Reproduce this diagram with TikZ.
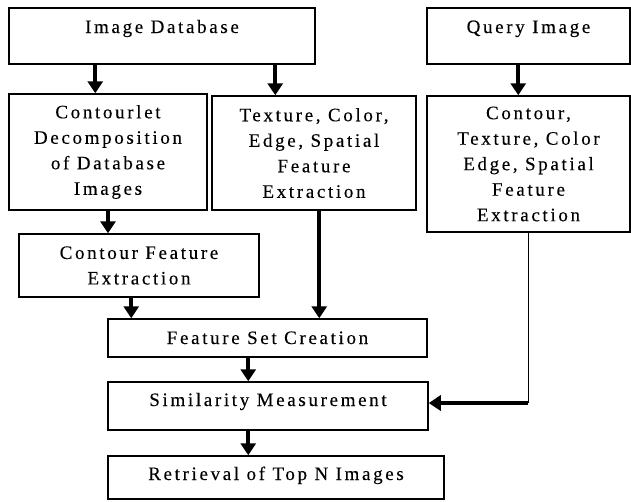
\documentclass[tikz,border=0pt]{standalone}
\usepackage{fontspec}
\setmainfont{Liberation Serif}[LetterSpace=14, FakeBold=0.2]
\usetikzlibrary{arrows.meta}
\begin{document}
\begin{tikzpicture}[x=1pt,y=-1pt,
  box/.style={draw=black, line width=1.5pt, rectangle, inner xsep=2pt, inner ysep=0pt,
    align=center, font=\fontsize{19}{25.5}\selectfont},
  oneline/.style 2 args={text height=#1pt, text depth=#2pt},
  arr/.style={line width=4pt, -{Triangle[width=15pt,length=12pt]}},
  thin/.style={line width=1.4pt}]
\useasboundingbox (0,0) rectangle (631,501);

% boxes
\node[box, minimum width=306pt, minimum height=56pt, oneline={25}{31}] (db) at (162,36) {Image Database};
\node[box, minimum width=203pt, minimum height=56pt, oneline={25}{31}] (qi) at (528.5,36) {Query Image};
\node[box, minimum width=198pt, minimum height=116pt] (ctl) at (108,152)
  {Contourlet\\Decomposition\\of Database\\Images};
\node[box, minimum width=204pt, minimum height=114pt] (tex) at (314,153)
  {Texture, Color,\\Edge, Spatial\\Feature\\Extraction};
\node[box, minimum width=203pt, minimum height=136pt] (qf) at (528.5,164)
  {Contour,\\Texture, Color\\Edge, Spatial\\Feature\\Extraction};
\node[box, minimum width=240pt, minimum height=63pt] (cf) at (139,265.5)
  {Contour Feature\\Extraction};
\node[box, minimum width=319pt, minimum height=38pt, oneline={25}{13}] (fs) at (267.5,338) {Feature Set Creation};
\node[box, minimum width=320pt, minimum height=48pt, oneline={24}{24}] (sim) at (268,406) {Similarity Measurement};
\node[box, minimum width=336pt, minimum height=43pt, oneline={24}{19}] (ret) at (276,477.5) {Retrieval of Top N Images};

% connectors
\draw[arr] ([xshift=87pt]db.south west) -- ([xshift=87pt]db.south west |- ctl.north);
\draw[arr] ([xshift=267pt]db.south west) -- ([xshift=267pt]db.south west |- tex.north);
\draw[arr] ([xshift=92pt]qi.south west) -- ([xshift=92pt]qi.south west |- qf.north);
\draw[arr] (ctl.south) -- (ctl.south |- cf.north);
\draw[arr] ([xshift=113pt]cf.south west) -- ([xshift=113pt]cf.south west |- fs.north);
\draw[arr] ([xshift=108pt]tex.south west) -- ([xshift=108pt]tex.south west |- fs.north);
\draw[arr] ([xshift=141pt]fs.south west) -- ([xshift=141pt]fs.south west |- sim.north);
\draw[arr] ([xshift=141pt]sim.south west) -- ([xshift=141pt]sim.south west |- ret.north);
\coordinate (simin) at ([yshift=3pt]sim.east);
\coordinate (bend) at (qf.south |- simin);
\draw[thin] (qf.south) -- (bend);
\draw[arr] ([xshift=-0.7pt]bend) -- (simin);
\end{tikzpicture}
\end{document}
